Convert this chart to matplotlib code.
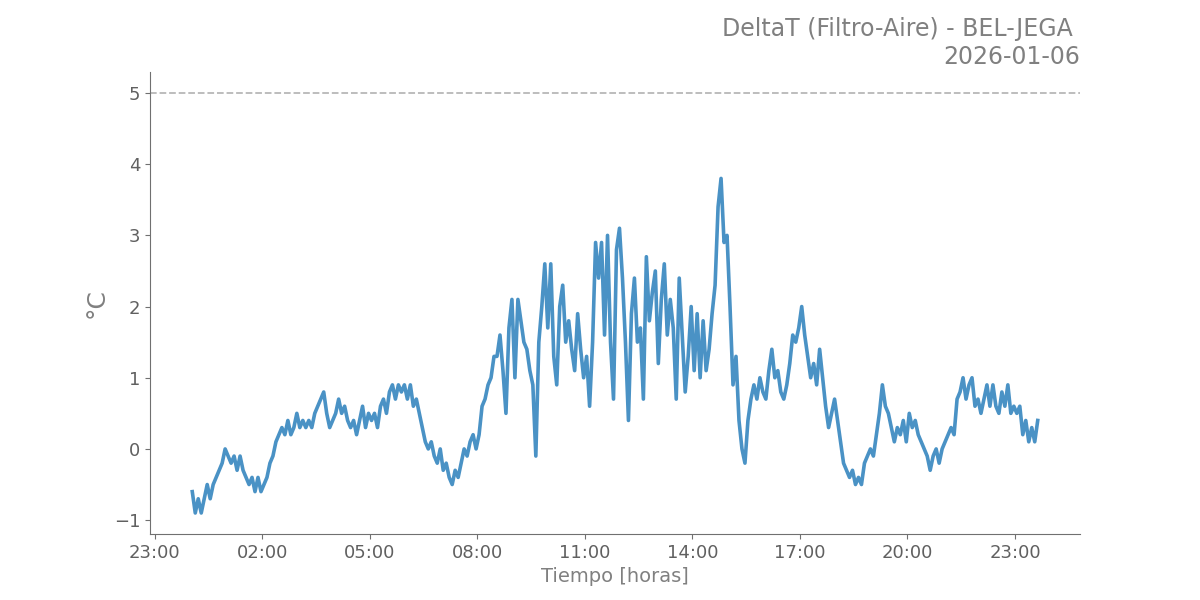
import matplotlib
matplotlib.use("Agg")
import matplotlib.pyplot as plt
import matplotlib.dates as mdates
import pandas as pd

titulo = "DeltaT (Filtro-Aire) - BEL-JEGA \n2026-01-06"
inicio = "2026-01-06 00:03"
paso = "5min"
limite = 5.0

# one row per hour, 5-minute samples (°C)
delta_t = [
    -0.6, -0.9, -0.7, -0.9, -0.7, -0.5, -0.7, -0.5, -0.4, -0.3, -0.2, 0.0,   # 00
    -0.1, -0.2, -0.1, -0.3, -0.1, -0.3, -0.4, -0.5, -0.4, -0.6, -0.4, -0.6,  # 01
    -0.5, -0.4, -0.2, -0.1, 0.1, 0.2, 0.3, 0.2, 0.4, 0.2, 0.3, 0.5,          # 02
    0.3, 0.4, 0.3, 0.4, 0.3, 0.5, 0.6, 0.7, 0.8, 0.5, 0.3, 0.4,              # 03
    0.5, 0.7, 0.5, 0.6, 0.4, 0.3, 0.4, 0.2, 0.4, 0.6, 0.3, 0.5,              # 04
    0.4, 0.5, 0.3, 0.6, 0.7, 0.5, 0.8, 0.9, 0.7, 0.9, 0.8, 0.9,              # 05
    0.7, 0.9, 0.6, 0.7, 0.5, 0.3, 0.1, 0.0, 0.1, -0.1, -0.2, 0.0,            # 06
    -0.3, -0.2, -0.4, -0.5, -0.3, -0.4, -0.2, 0.0, -0.1, 0.1, 0.2, 0.0,      # 07
    0.2, 0.6, 0.7, 0.9, 1.0, 1.3, 1.3, 1.6, 1.1, 0.5, 1.7, 2.1,              # 08
    1.0, 2.1, 1.8, 1.5, 1.4, 1.1, 0.9, -0.1, 1.5, 2.0, 2.6, 1.7,             # 09
    2.6, 1.3, 0.9, 2.0, 2.3, 1.5, 1.8, 1.4, 1.1, 1.9, 1.4, 1.0,              # 10
    1.3, 0.6, 1.5, 2.9, 2.4, 2.9, 1.6, 3.0, 1.5, 0.7, 2.8, 3.1,              # 11
    2.4, 1.5, 0.4, 1.9, 2.4, 1.5, 1.7, 0.7, 2.7, 1.8, 2.2, 2.5,              # 12
    1.2, 2.1, 2.6, 1.6, 2.1, 1.7, 0.7, 2.4, 1.6, 0.8, 1.3, 2.0,              # 13
    1.1, 1.9, 1.0, 1.8, 1.1, 1.4, 1.9, 2.3, 3.4, 3.8, 2.9, 3.0,              # 14
    2.0, 0.9, 1.3, 0.4, 0.0, -0.2, 0.4, 0.7, 0.9, 0.7, 1.0, 0.8,             # 15
    0.7, 1.1, 1.4, 1.0, 1.1, 0.8, 0.7, 0.9, 1.2, 1.6, 1.5, 1.7,              # 16
    2.0, 1.6, 1.3, 1.0, 1.2, 0.9, 1.4, 1.0, 0.6, 0.3, 0.5, 0.7,              # 17
    0.4, 0.1, -0.2, -0.3, -0.4, -0.3, -0.5, -0.4, -0.5, -0.2, -0.1, 0.0,     # 18
    -0.1, 0.2, 0.5, 0.9, 0.6, 0.5, 0.3, 0.1, 0.3, 0.2, 0.4, 0.1,             # 19
    0.5, 0.3, 0.4, 0.2, 0.1, 0.0, -0.1, -0.3, -0.1, 0.0, -0.2, 0.0,          # 20
    0.1, 0.2, 0.3, 0.2, 0.7, 0.8, 1.0, 0.7, 0.9, 1.0, 0.6, 0.7,              # 21
    0.5, 0.7, 0.9, 0.6, 0.9, 0.6, 0.5, 0.8, 0.6, 0.9, 0.5, 0.6,              # 22
    0.5, 0.6, 0.2, 0.4, 0.1, 0.3, 0.1, 0.4,                                  # 23
]

tiempo = pd.date_range(inicio, periods=len(delta_t), freq=paso)

fig = plt.figure(figsize=(12, 6), dpi=100)
ax = fig.add_axes([0.125, 0.11, 0.775, 0.77])

ax.plot(tiempo, delta_t, color="#4a92c5", linewidth=2.6)
ax.axhline(limite, color="#b8b8b8", linestyle="--", linewidth=1.3)

ax.xaxis.set_major_locator(mdates.HourLocator(byhour=range(2, 24, 3)))
ax.xaxis.set_major_formatter(mdates.DateFormatter("%H:%M"))

for side in ("top", "right"):
    ax.spines[side].set_visible(False)
for side in ("left", "bottom"):
    ax.spines[side].set_color("#707070")
ax.tick_params(colors="#707070", labelcolor="#606060", labelsize=13)

ax.set_xlabel("Tiempo [horas]", color="#808080", fontsize=14)
ax.set_ylabel("°C", color="#808080", fontsize=18)
ax.set_title(titulo, loc="right", color="#808080", fontsize=17, pad=6)

fig.savefig("out.png", dpi=100)
